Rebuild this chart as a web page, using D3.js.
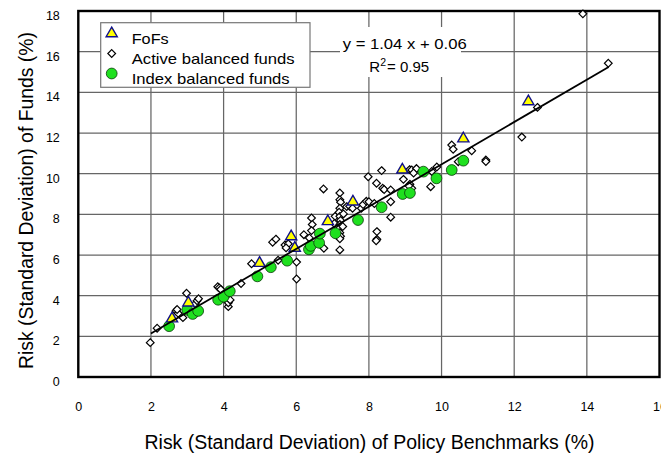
<!DOCTYPE html>
<html>
<head>
<meta charset="utf-8">
<script src="https://cdn.jsdelivr.net/npm/d3@7"></script>
<style>
  html, body { margin: 0; padding: 0; background: #fff; }
  svg { display: block; font-family: "Liberation Sans", Arial, Helvetica, sans-serif; }
</style>
</head>
<body>
<svg id="chart" width="661" height="453"></svg>
<script>
// Fund risk vs. policy-benchmark risk (standard deviation, %)
const fofs = [
  [2.58, 2.87], [3.03, 3.65], [4.99, 5.6], [5.86, 6.91], [5.96, 6.34],
  [6.87, 7.65], [7.56, 8.62], [8.92, 10.19], [10.6, 11.72], [12.39, 13.55]
];

const activeFunds = [
  [1.98, 1.69], [2.17, 2.4], [2.69, 3.25], [2.75, 3.13], [2.72, 3.32], [2.88, 2.92],
  [2.98, 4.12], [3.22, 3.6], [3.27, 3.75], [3.31, 3.85],
  [3.84, 4.44], [3.88, 4.38], [3.92, 4.31], [4.13, 3.46], [4.13, 3.65], [4.18, 3.79],
  [4.48, 4.6], [4.77, 5.57], [5.35, 6.63], [5.44, 6.78], [5.5, 5.74],
  [5.69, 6.49], [5.78, 6.55], [5.72, 6.35], [6.01, 5.65], [6.01, 4.82],
  [6.21, 7.0], [6.36, 6.84], [6.42, 7.82], [6.44, 7.5], [6.42, 7.2], [6.76, 6.33],
  [6.75, 9.25], [7.07, 7.9], [7.05, 7.55],
  [7.2, 9.05], [7.2, 8.72], [7.22, 8.6], [7.2, 8.3], [7.18, 8.1], [7.2, 7.9],
  [7.22, 7.7], [7.2, 7.5], [7.18, 7.3], [7.2, 7.1], [7.22, 6.92], [7.2, 6.8], [7.2, 6.25],
  [7.3, 8.02], [7.28, 7.4], [7.39, 8.38], [7.47, 8.4], [7.55, 8.3],
  [7.79, 8.3], [7.84, 8.48], [7.93, 8.64], [8.0, 8.62], [7.98, 9.85], [8.15, 8.53],
  [8.21, 9.53], [8.35, 10.15], [8.38, 9.28], [8.42, 9.22],
  [8.22, 7.15], [8.22, 6.77], [8.2, 6.7],
  [8.6, 9.2], [8.6, 8.62], [8.6, 7.86],
  [8.95, 9.72], [9.12, 10.2], [9.18, 10.18], [9.31, 10.25], [9.13, 9.48], [9.18, 9.28],
  [9.23, 10.03], [9.1, 9.4],
  [9.7, 9.36], [9.73, 10.11], [9.87, 10.33],
  [10.28, 11.41], [10.32, 11.2], [10.46, 10.59], [10.83, 11.13],
  [11.22, 10.67], [11.22, 10.6],
  [12.21, 11.8], [12.64, 13.26], [13.89, 17.86], [14.59, 15.43]
];

const indexFunds = [
  [2.5, 2.5], [3.0, 3.3], [3.15, 3.1], [3.3, 3.25],
  [3.85, 3.8], [4.0, 3.95], [4.17, 4.22],
  [4.93, 4.95], [5.3, 5.4], [5.75, 5.72],
  [6.35, 6.28], [6.4, 6.45], [6.63, 6.6], [6.65, 7.05], [7.08, 7.07],
  [7.7, 7.72], [8.35, 8.35], [8.93, 9.0], [9.13, 9.05],
  [9.5, 10.1], [9.86, 9.77], [10.28, 10.18], [10.6, 10.64]
];

// Linear fit reported on the chart
const fitSlope = 1.04;
const fitIntercept = 0.06;
const fitR2 = 0.95;
const fitRange = [2.0, 14.6];

const xTicks = [0, 2, 4, 6, 8, 10, 12, 14, 16];
const yTicks = [0, 2, 4, 6, 8, 10, 12, 14, 16, 18];

const legendItems = [
  { label: "FoFs", kind: "fofs", len: 37 },
  { label: "Active balanced funds", kind: "active", len: 163 },
  { label: "Index balanced funds", kind: "index", len: 158 }
];

const svg = d3.select("#chart");

const x = d3.scaleLinear().domain([0, 16]).range([78.3, 659.5]);
const y = d3.scaleLinear().domain([0, 18]).range([377, 11]);

// grid
const grid = svg.append("g").attr("stroke", "#666").attr("stroke-width", 1.25);
grid.selectAll("line.v").data(xTicks.filter(d => d > 0 && d < 16)).join("line")
  .attr("class", "v")
  .attr("x1", d => x(d)).attr("x2", d => x(d))
  .attr("y1", y(18)).attr("y2", y(0));
grid.selectAll("line.h").data(yTicks.filter(d => d > 0 && d < 18)).join("line")
  .attr("class", "h")
  .attr("y1", d => y(d)).attr("y2", d => y(d))
  .attr("x1", x(0)).attr("x2", x(16));

// plot frame
svg.append("rect")
  .attr("x", x(0)).attr("y", y(18))
  .attr("width", x(16) - x(0)).attr("height", y(0) - y(18))
  .attr("fill", "none").attr("stroke", "#000").attr("stroke-width", 2.4);

// axes (labels only)
const xAxis = svg.append("g")
  .attr("transform", `translate(0,${y(0)})`)
  .call(d3.axisBottom(x).tickValues(xTicks).tickSize(0).tickPadding(25.5));
xAxis.select(".domain").remove();
xAxis.selectAll("text").attr("font-size", 12.5).attr("fill", "#000")
  .attr("font-family", "Liberation Sans, Arial, sans-serif");

const yAxis = svg.append("g")
  .attr("transform", `translate(${x(0)},0)`)
  .call(d3.axisLeft(y).tickValues(yTicks).tickSize(0).tickPadding(18.5));
yAxis.select(".domain").remove();
yAxis.selectAll("text").attr("font-size", 12.5).attr("fill", "#000")
  .attr("font-family", "Liberation Sans, Arial, sans-serif")
  .attr("transform", "translate(0,4.5)");

// axis titles
svg.append("text")
  .attr("x", 369.5).attr("y", 449)
  .attr("text-anchor", "middle")
  .attr("font-size", 19.5)
  .attr("textLength", 450).attr("lengthAdjust", "spacingAndGlyphs")
  .text("Risk (Standard Deviation) of Policy Benchmarks (%)");

svg.append("text")
  .attr("transform", "translate(33,200.5) rotate(-90)")
  .attr("text-anchor", "middle")
  .attr("font-size", 19.5)
  .attr("textLength", 337).attr("lengthAdjust", "spacingAndGlyphs")
  .text("Risk (Standard Deviation) of Funds (%)");

// marker shapes
const diamond = d3.symbol().type(d3.symbolDiamond2).size(38);
const triangle = d3.symbol().type(d3.symbolTriangle).size(54);

function drawActive(sel) {
  sel.attr("d", diamond).attr("fill", "#fff").attr("stroke", "#000").attr("stroke-width", 1.2);
}
function drawIndex(sel) {
  sel.attr("r", 5.4).attr("fill", "#1fe01f").attr("stroke", "#0a3a0a").attr("stroke-width", 0.8);
}
function drawFofs(sel) {
  sel.attr("d", triangle).attr("fill", "#ffff00").attr("stroke", "#10108a").attr("stroke-width", 1.4);
}

const marks = svg.append("g");
marks.selectAll("path.active").data(activeFunds).join("path")
  .attr("class", "active")
  .attr("transform", d => `translate(${x(d[0])},${y(d[1])})`)
  .call(drawActive);
marks.selectAll("circle.index").data(indexFunds).join("circle")
  .attr("class", "index")
  .attr("cx", d => x(d[0])).attr("cy", d => y(d[1]))
  .call(drawIndex);
marks.selectAll("path.fofs").data(fofs).join("path")
  .attr("class", "fofs")
  .attr("transform", d => `translate(${x(d[0])},${y(d[1])})`)
  .call(drawFofs);

// regression line
svg.append("line")
  .attr("x1", x(fitRange[0])).attr("y1", y(fitSlope * fitRange[0] + fitIntercept))
  .attr("x2", x(fitRange[1])).attr("y2", y(fitSlope * fitRange[1] + fitIntercept))
  .attr("stroke", "#000").attr("stroke-width", 1.8);

// fit equation
svg.append("rect")
  .attr("x", 340).attr("y", 27).attr("width", 121).attr("height", 50)
  .attr("fill", "#fff");
svg.append("text")
  .attr("x", 404.7).attr("y", 49)
  .attr("text-anchor", "middle").attr("font-size", 15)
  .attr("textLength", 124).attr("lengthAdjust", "spacingAndGlyphs")
  .text(`y = ${fitSlope.toFixed(2)} x + ${fitIntercept.toFixed(2)}`);
const r2 = svg.append("text")
  .attr("x", 369.3).attr("y", 71.7)
  .attr("font-size", 15);
r2.append("tspan").text("R");
r2.append("tspan").attr("font-size", 10.5).attr("dy", -6).text("2");
r2.append("tspan").attr("dy", 6).attr("dx", 1).text(`= ${fitR2.toFixed(2)}`);

// legend
const legend = svg.append("g");
legend.append("rect")
  .attr("x", 100.7).attr("y", 22.7).attr("width", 209.3).attr("height", 64.6)
  .attr("fill", "#fff").attr("stroke", "#777").attr("stroke-width", 1.2);
legendItems.forEach((item, i) => {
  const cy = 33.5 + i * 20;
  if (item.kind === "fofs") {
    legend.append("path").attr("transform", `translate(111.7,${cy})`).call(drawFofs);
  } else if (item.kind === "active") {
    legend.append("path").attr("transform", `translate(111.7,${cy})`).call(drawActive);
  } else {
    legend.append("circle").attr("cx", 111.7).attr("cy", cy).call(drawIndex);
  }
  legend.append("text")
    .attr("x", 131.7).attr("y", cy + 10)
    .attr("font-size", 15)
    .attr("textLength", item.len).attr("lengthAdjust", "spacingAndGlyphs")
    .text(item.label);
});
</script>
</body>
</html>
